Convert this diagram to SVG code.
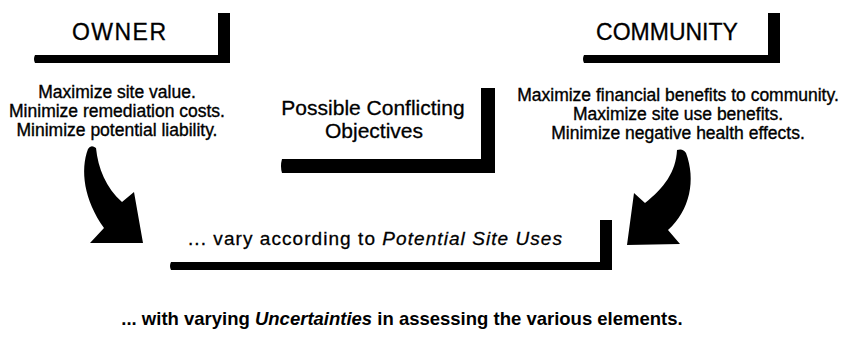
<svg xmlns="http://www.w3.org/2000/svg" width="852" height="342" viewBox="0 0 852 342">
<style>
.bar{fill:#000}
.arrow{fill:#000}
.head{font-family:"Liberation Sans",Arial,sans-serif;font-size:23px;fill:#000;stroke:#000;stroke-width:0.3;text-anchor:middle}
.mid{font-family:"Liberation Sans",Arial,sans-serif;font-size:21px;fill:#000;stroke:#000;stroke-width:0.3;text-anchor:middle}
.obj{font-family:"Liberation Sans",Arial,sans-serif;font-size:17.5px;fill:#000;stroke:#000;stroke-width:0.35;text-anchor:middle}
.uses{font-family:"Liberation Sans",Arial,sans-serif;font-size:19px;fill:#000;stroke:#000;stroke-width:0.3}
.foot{font-family:"Liberation Sans",Arial,sans-serif;font-size:18.5px;font-weight:bold;fill:#000;text-anchor:middle}
</style>
<rect width="852" height="342" fill="#fff"/>
<g id="owner">
  <path class="bar" d="M35 55 H218 V13 H230 V63 H35 Q33 59 35 55 Z"/>
  <text class="head" x="119" y="40" textLength="94" lengthAdjust="spacing">OWNER</text>
</g>
<g id="owner-objectives">
  <text class="obj" x="117" y="98">Maximize site value.</text>
  <text class="obj" x="117" y="117">Minimize remediation costs.</text>
  <text class="obj" x="117" y="136">Minimize potential liability.</text>
</g>
<g id="community">
  <path class="bar" d="M584 55 H768 V13 H780 V63 H584 Q582 59 584 55 Z"/>
  <text class="head" x="667" y="40">COMMUNITY</text>
</g>
<g id="community-objectives">
  <text class="obj" x="678" y="101">Maximize financial benefits to community.</text>
  <text class="obj" x="678" y="120">Maximize site use benefits.</text>
  <text class="obj" x="678" y="139">Minimize negative health effects.</text>
</g>
<g id="conflicting">
  <path class="bar" d="M282 159 H481 V88 H495 V173 H282 Q280 166 282 159 Z"/>
  <text class="mid" x="373" y="115">Possible Conflicting</text>
  <text class="mid" x="374" y="138">Objectives</text>
</g>
<g id="site-uses">
  <path class="bar" d="M171 262 H600 V220 H612 V270 H171 Q169 266 171 262 Z"/>
  <text class="uses" x="188" y="245" textLength="374" lengthAdjust="spacing">... vary according to <tspan font-style="italic">Potential Site Uses</tspan></text>
</g>
<g id="connectors">
  <path class="arrow" d="M88 149 Q91 144 96 148 C98 168 106 188 122 202 L134 192 L143 243 L90 243 L104 228 C84 200 80 170 88 149 Z"/>
  <path class="arrow" d="M677 150 Q683 148 686 153 C696 180 690 210 668 230 L680 244 L627 245 L634 193 L645 203 C664 188 676 172 677 150 Z"/>
</g>
<g id="footnote">
  <text class="foot" x="402" y="325">... with varying <tspan font-style="italic">Uncertainties</tspan> in assessing the various elements.</text>
</g>
</svg>
